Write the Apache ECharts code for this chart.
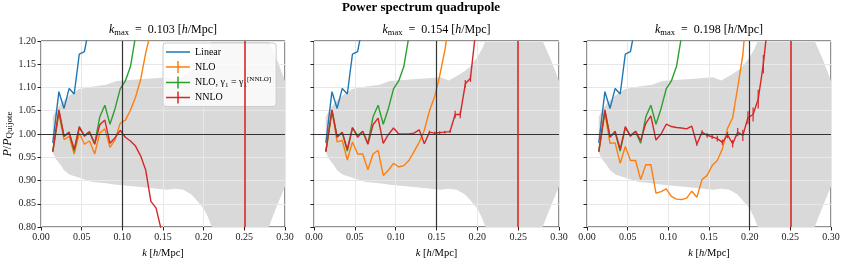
<!DOCTYPE html>
<html><head><meta charset="utf-8">
<script src="https://cdn.jsdelivr.net/npm/echarts@6/dist/echarts.min.js"></script>
<style>html,body{margin:0;padding:0;background:#fff}#c{width:843px;height:264px}</style>
</head><body><div id="c"></div>
<script>
// ---- data ----
const kBins = [0.0145, 0.0220, 0.0283, 0.0346, 0.0408, 0.0471, 0.0534, 0.0597, 0.0660, 0.0723, 0.0785, 0.0848, 0.0911, 0.0974, 0.1037, 0.1100, 0.1162, 0.1225, 0.1288, 0.1351, 0.1414, 0.1477, 0.1539, 0.1602, 0.1665, 0.1728, 0.1791, 0.1853, 0.1916, 0.1979, 0.2042, 0.2105, 0.2168, 0.2230];
const kmaxValues = [0.103, 0.154, 0.198];
const kmaxLabels = ['0.103', '0.154', '0.198'];
const kRed = 0.25;

const linear = [0.981, 1.091, 1.055, 1.098, 1.086, 1.172, 1.177, 1.235, 1.31, 1.40];
const nloGamma = [0.962, 1.050, 0.995, 1.003, 0.963, 1.013, 0.997, 1.005, 0.980, 1.037, 1.062, 1.021, 1.055, 1.097, 1.114, 1.145, 1.21, 1.30];

const nlo1 = [0.962, 1.044, 0.988, 0.995, 0.957, 1.002, 0.978, 0.985, 0.957, 1.002, 1.011, 0.971, 0.988, 1.023, 1.030, 1.051, 1.079, 1.117, 1.175, 1.22, 1.30];
const nnlo1 = [0.962, 1.052, 0.995, 1.004, 0.967, 1.016, 0.995, 1.004, 0.978, 1.020, 1.030, 0.980, 0.992, 1.008, 0.993, 0.985, 0.974, 0.953, 0.922, 0.855, 0.841, 0.795, 0.75];

const nlo2 = [0.962, 1.051, 0.983, 0.986, 0.944, 0.983, 0.957, 0.957, 0.923, 0.957, 0.965, 0.911, 0.922, 0.937, 0.929, 0.932, 0.943, 0.962, 0.982, 1.008, 1.050, 1.080, 1.125, 1.180, 1.25];
const nnlo2 = [0.962, 1.052, 0.993, 1.004, 0.967, 1.014, 0.993, 1.006, 0.978, 1.020, 1.034, 0.980, 0.999, 1.013, 1.000, 1.000, 1.000, 1.002, 1.009, 0.979, 1.004, 1.002, 1.003, 1.004, 1.005, 1.042, 1.042, 1.108, 1.120, 1.22];
const err2 = [0, 0, 0, 0, 0, 0, 0, 0, 0, 0, 0, 0, 0, 0, 0, 0, 0, 0, 0, 0, 0.003, 0.003, 0.003, 0.003, 0.003, 0.008, 0.008, 0.008, 0.008, 0.01];

const nlo3 = [0.962, 1.044, 0.980, 0.981, 0.937, 0.973, 0.943, 0.943, 0.902, 0.934, 0.934, 0.873, 0.876, 0.882, 0.866, 0.860, 0.859, 0.862, 0.877, 0.864, 0.902, 0.911, 0.932, 0.943, 0.968, 1.012, 1.035, 1.100, 1.170, 1.30];
const nnlo3 = [0.962, 1.052, 0.993, 1.006, 0.967, 1.016, 0.995, 1.006, 0.986, 1.023, 1.039, 0.987, 1.000, 1.021, 1.016, 1.014, 1.013, 1.011, 1.017, 0.978, 1.004, 0.997, 0.994, 0.990, 0.982, 0.998, 0.979, 1.004, 0.997, 1.035, 1.042, 1.075, 1.150, 1.25];
const err3 = [0, 0, 0, 0, 0, 0, 0, 0, 0, 0, 0, 0, 0, 0, 0, 0, 0, 0, 0, 0.004, 0.004, 0.005, 0.005, 0.006, 0.006, 0.007, 0.008, 0.009, 0.012, 0.014, 0.015, 0.02, 0.02, 0.02];

const bandK = [0.0144, 0.0184, 0.0246, 0.0283, 0.0348, 0.047, 0.0635, 0.08, 0.093, 0.10, 0.122, 0.14, 0.155, 0.165, 0.175, 0.185, 0.19, 0.20, 0.2056, 0.21, 0.22, 0.27, 0.28, 0.29, 0.30];
const bandUpper = [1.037, 1.050, 1.066, 1.072, 1.083, 1.097, 1.102, 1.106, 1.114, 1.115, 1.118, 1.120, 1.122, 1.115, 1.125, 1.136, 1.143, 1.165, 1.182, 1.200, 1.26, 1.26, 1.200, 1.160, 1.114];
const bandLower = [0.960, 0.946, 0.932, 0.922, 0.913, 0.906, 0.897, 0.894, 0.891, 0.890, 0.886, 0.883, 0.880, 0.882, 0.880, 0.870, 0.860, 0.840, 0.820, 0.800, 0.74, 0.74, 0.800, 0.845, 0.887];

const xTicks = {min: 0, max: 0.30, interval: 0.05};
const yTicks = {min: 0.80, max: 1.20, interval: 0.05};

// ---- styling / build ----
const F = '"Liberation Serif", "DejaVu Serif", serif';
const C = {lin: '#1f77b4', nlo: '#ff7f0e', nlog: '#2ca02c', nnlo: '#d62728'};
const gridBoxes = [{left: 41, width: 244}, {left: 314, width: 245}, {left: 587, width: 244}];
const panels = [
  {nlo: nlo1, nnlo: nnlo1, err: null},
  {nlo: nlo2, nnlo: nnlo2, err: err2},
  {nlo: nlo3, nnlo: nnlo3, err: err3}
];
const pairs = (ys) => ys.map((v, i) => [kBins[i], v]);

const rich = (fs, sfs) => ({
  i: {fontFamily: F, fontStyle: 'italic', fontWeight: 'normal', fontSize: fs, color: '#000'},
  n: {fontFamily: F, fontWeight: 'normal', fontSize: fs, color: '#000'},
  s: {fontFamily: F, fontWeight: 'normal', fontSize: sfs, color: '#000', padding: [Math.round(fs * 0.45), 0, 0, 0]},
  sup: {fontFamily: F, fontWeight: 'normal', fontSize: sfs, color: '#000', padding: [0, 0, Math.round(fs * 0.6), 0]}
});

const titles = [{
  text: 'Power spectrum quadrupole', left: 421, top: 1, padding: 0, textAlign: 'center',
  textStyle: {fontFamily: F, fontWeight: 'bold', fontSize: 13, color: '#000'}
}];
const grids = [], xAxes = [], yAxes = [], series = [];

gridBoxes.forEach((g, p) => {
  titles.push({
    text: '{i|k}{s|max}{n|  =  ' + kmaxLabels[p] + ' [}{i|h}{n|/Mpc]}',
    left: g.left + g.width / 2, top: 23, padding: 0, textAlign: 'center',
    textStyle: {fontFamily: F, fontWeight: 'normal', fontSize: 12, color: '#000', rich: rich(12, 8.5)}
  });
  grids.push({left: g.left, width: g.width, top: 41, bottom: 33, show: true, borderColor: '#222', borderWidth: 1, backgroundColor: 'transparent'});
  xAxes.push({
    gridIndex: p, type: 'value', min: xTicks.min, max: xTicks.max, interval: xTicks.interval, z: 2,
    axisLine: {show: false}, axisTick: {show: true, length: 3.5, lineStyle: {color: '#222'}},
    splitLine: {show: true, lineStyle: {color: '#e8e8e8', width: 1}},
    axisLabel: {fontFamily: F, fontSize: 10, color: '#222', margin: 5, formatter: v => v.toFixed(2)},
    name: '{i|k}{n| [}{i|h}{n|/Mpc]}', nameLocation: 'middle', nameGap: 21,
    nameTextStyle: {fontFamily: F, fontSize: 10.5, color: '#000', rich: rich(10.5, 7.5)}
  });
  yAxes.push({
    gridIndex: p, type: 'value', min: yTicks.min, max: yTicks.max, interval: yTicks.interval, z: 2,
    axisLine: {show: false}, axisTick: {show: true, length: 3.5, lineStyle: {color: '#222'}},
    splitLine: {show: true, lineStyle: {color: '#e8e8e8', width: 1}},
    axisLabel: {show: p === 0, fontFamily: F, fontSize: 10, color: '#222', margin: 5, formatter: v => v.toFixed(2)},
    name: p === 0 ? '{i|P}{n|/}{i|P}{s|Quijote}' : '', nameLocation: 'middle', nameGap: 25, nameRotate: 90,
    nameTextStyle: {fontFamily: F, fontSize: 12, color: '#000', rich: rich(12, 9)}
  });
  // shaded band (polygon through upper then lower bound)
  series.push({type: 'custom', xAxisIndex: p, yAxisIndex: p, z: 1, silent: true, clip: true,
    data: [[0.15, 1.0]],
    renderItem: (params, api) => {
      const pts = [];
      for (let i = 0; i < bandK.length; i++) pts.push(api.coord([bandK[i], bandUpper[i]]));
      for (let i = bandK.length - 1; i >= 0; i--) pts.push(api.coord([bandK[i], bandLower[i]]));
      return {type: 'polygon', shape: {points: pts}, style: {fill: '#d9d9d9'}};
    }});
  // reference lines
  series.push({type: 'line', xAxisIndex: p, yAxisIndex: p, z: 3, silent: true, symbol: 'none',
    lineStyle: {opacity: 0}, data: [[kRed, 1]],
    markLine: {silent: true, symbol: ['none', 'none'], label: {show: false}, animation: false,
      data: [
        {yAxis: 1, lineStyle: {color: '#333', width: 1.2, type: 'solid'}},
        {xAxis: kmaxValues[p], lineStyle: {color: '#333', width: 1.2, type: 'solid'}},
        {xAxis: kRed, lineStyle: {color: C.nnlo, width: 1.6, type: 'solid'}}
      ]}});
  const ls = (c) => ({color: c, width: 1.4});
  series.push({name: 'Linear', type: 'line', xAxisIndex: p, yAxisIndex: p, z: 4, symbol: 'none', color: C.lin, lineStyle: ls(C.lin), data: pairs(linear)});
  series.push({name: 'NLO', type: 'line', xAxisIndex: p, yAxisIndex: p, z: 4, symbol: 'none', color: C.nlo, lineStyle: ls(C.nlo), data: pairs(panels[p].nlo)});
  series.push({name: 'NLOg', type: 'line', xAxisIndex: p, yAxisIndex: p, z: 4, symbol: 'none', color: C.nlog, lineStyle: ls(C.nlog), data: pairs(nloGamma)});
  series.push({name: 'NNLO', type: 'line', xAxisIndex: p, yAxisIndex: p, z: 4, symbol: 'none', color: C.nnlo, lineStyle: ls(C.nnlo), data: pairs(panels[p].nnlo)});
  if (panels[p].err) {
    const e = panels[p].err;
    const ed = panels[p].nnlo.map((v, i) => [kBins[i], v - e[i], v + e[i]]).filter((d, i) => e[i] > 0);
    series.push({type: 'custom', xAxisIndex: p, yAxisIndex: p, z: 4, silent: true, clip: true,
      encode: {x: 0, y: [1, 2]}, data: ed,
      renderItem: (params, api) => {
        const a = api.coord([api.value(0), api.value(1)]);
        const b = api.coord([api.value(0), api.value(2)]);
        return {type: 'line', shape: {x1: a[0], y1: a[1], x2: b[0], y2: b[1]}, style: {stroke: C.nnlo, lineWidth: 1.2}};
      }});
  }
});

const corner = 'M0,0h0.01v0.01h-0.01z M23.99,11.99h0.01v0.01h-0.01z ';
const lineIcon = 'path://' + corner + 'M0,5.3h24v1.5h-24z';
const plusIcon = 'path://' + corner + 'M0,5.3h24v1.5h-24z M11.25,0h1.5v12h-1.5z';
const legendLabels = {
  'Linear': '{n|Linear}',
  'NLO': '{n|NLO}',
  'NLOg': '{n|NLO, γ}{s|1}{n| = γ}{s|1}{sup|[NNLO]}',
  'NNLO': '{n|NNLO}'
};

const chart = echarts.init(document.getElementById('c'), null, {renderer: 'canvas'});
chart.setOption({
  animation: false,
  backgroundColor: '#fff',
  title: titles,
  grid: grids,
  xAxis: xAxes,
  yAxis: yAxes,
  legend: {
    left: 163, top: 43, orient: 'vertical', itemWidth: 24, itemHeight: 12, itemGap: 3,
    padding: [3, 5, 3, 3], backgroundColor: 'rgba(255,255,255,0.8)', borderColor: '#ccc', borderWidth: 1, borderRadius: 3,
    selectedMode: false,
    data: [
      {name: 'Linear', icon: lineIcon},
      {name: 'NLO', icon: plusIcon},
      {name: 'NLOg', icon: plusIcon},
      {name: 'NNLO', icon: plusIcon}
    ],
    formatter: n => legendLabels[n],
    textStyle: {fontFamily: F, fontSize: 10, color: '#000', rich: rich(10, 7)}
  },
  series: series
});
</script></body></html>
